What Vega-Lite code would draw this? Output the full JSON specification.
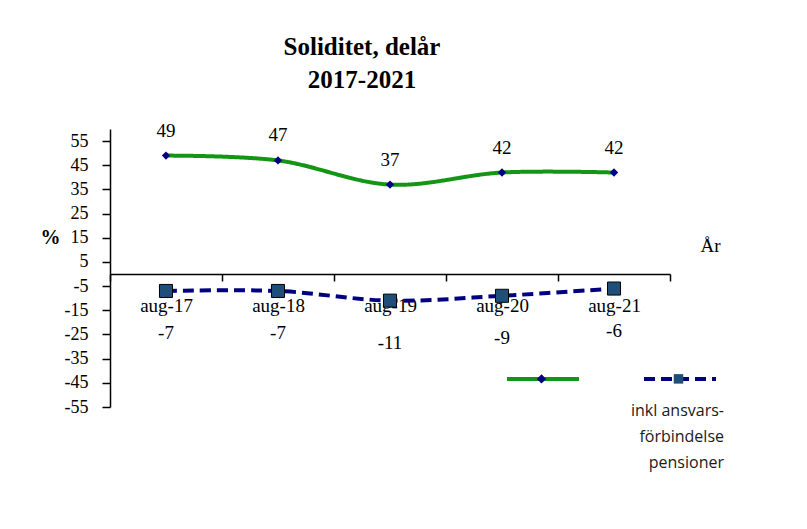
{
  "$schema": "https://vega.github.io/schema/vega-lite/v6.json",
  "width": 560,
  "height": 278,
  "autosize": {"type": "none"},
  "padding": {"left": 110, "top": 129, "right": 137, "bottom": 122},
  "background": "white",
  "title": {
    "text": ["Soliditet, delår", "2017-2021"],
    "font": "Liberation Serif",
    "fontSize": 25,
    "fontWeight": "bold",
    "lineHeight": 33,
    "color": "#000000",
    "anchor": "middle",
    "dx": -28,
    "offset": 29
  },
  "data": {
    "values": [
      {"period": "aug-17", "series": "Soliditet", "value": 49},
      {"period": "aug-18", "series": "Soliditet", "value": 47},
      {"period": "aug-19", "series": "Soliditet", "value": 37},
      {"period": "aug-20", "series": "Soliditet", "value": 42},
      {"period": "aug-21", "series": "Soliditet", "value": 42},
      {"period": "aug-17", "series": "inkl", "value": -7},
      {"period": "aug-18", "series": "inkl", "value": -7},
      {"period": "aug-19", "series": "inkl", "value": -11},
      {"period": "aug-20", "series": "inkl", "value": -9},
      {"period": "aug-21", "series": "inkl", "value": -6}
    ]
  },
  "encoding": {
    "x": {
      "field": "period",
      "type": "nominal",
      "sort": null,
      "scale": {"type": "band", "paddingInner": 0, "paddingOuter": 0},
      "axis": {
        "orient": "bottom",
        "offset": -133,
        "title": "År",
        "titleAngle": 0,
        "titleX": 600,
        "titleY": -29,
        "titleBaseline": "middle",
        "titleAlign": "center",
        "titleFont": "Liberation Serif",
        "titleFontSize": 19,
        "titleFontWeight": "normal",
        "titleColor": "#000000",
        "labelAngle": 0,
        "labelFont": "Liberation Serif",
        "labelFontSize": 19,
        "labelColor": "#000000",
        "labelPadding": 15,
        "tickBand": "extent",
        "tickSize": 7,
        "tickColor": "#000000",
        "tickWidth": 1.5,
        "domainColor": "#000000",
        "domainWidth": 1.5,
        "grid": false
      }
    },
    "y": {
      "field": "value",
      "type": "quantitative",
      "scale": {"domain": [-55, 60], "nice": false, "zero": false},
      "axis": {
        "values": [-55, -45, -35, -25, -15, -5, 5, 15, 25, 35, 45, 55],
        "labelExpr": "replace(format(datum.value, 'd'), '−', '-')",
        "title": "%",
        "titleAngle": 0,
        "titleX": -60,
        "titleY": 108,
        "titleAlign": "center",
        "titleBaseline": "middle",
        "titleFont": "Liberation Serif",
        "titleFontSize": 20,
        "titleFontWeight": "bold",
        "titleColor": "#000000",
        "labelFont": "Liberation Serif",
        "labelFontSize": 18,
        "labelColor": "#000000",
        "labelPadding": 14,
        "tickSize": 8,
        "tickColor": "#000000",
        "tickWidth": 1.5,
        "domainColor": "#000000",
        "domainWidth": 1.5,
        "grid": false
      }
    }
  },
  "layer": [
    {
      "mark": {"type": "line", "interpolate": "cardinal", "strokeWidth": 4, "strokeCap": "butt"},
      "encoding": {
        "color": {
          "field": "series",
          "type": "nominal",
          "scale": {"domain": ["Soliditet", "inkl"], "range": ["#159515", "#000080"]},
          "legend": {
            "orient": "none",
            "legendX": 395,
            "legendY": 212,
            "direction": "horizontal",
            "title": ["inkl ansvars-", "förbindelse", "pensioner"],
            "titleOrient": "bottom",
            "titleAnchor": "end",
            "titleFont": "Open Sans",
            "titleFontSize": 16,
            "titleFontWeight": "normal",
            "titleColor": "#1a1a1a",
            "titleLineHeight": 26,
            "titlePadding": 16,
            "symbolType": "stroke",
            "symbolSize": 5184,
            "symbolStrokeWidth": 4,
            "labelExpr": "''",
            "labelOffset": 0,
            "columnPadding": 49,
            "padding": 0
          }
        },
        "strokeDash": {
          "field": "series",
          "type": "nominal",
          "scale": {"domain": ["Soliditet", "inkl"], "range": [[1, 0], [11, 6]]},
          "legend": {
            "orient": "none",
            "legendX": 395,
            "legendY": 212,
            "direction": "horizontal",
            "title": ["inkl ansvars-", "förbindelse", "pensioner"],
            "titleOrient": "bottom",
            "titleAnchor": "end",
            "titleFont": "Open Sans",
            "titleFontSize": 16,
            "titleFontWeight": "normal",
            "titleColor": "#1a1a1a",
            "titleLineHeight": 26,
            "titlePadding": 16,
            "symbolType": "stroke",
            "symbolSize": 5184,
            "symbolStrokeWidth": 4,
            "labelExpr": "''",
            "labelOffset": 0,
            "columnPadding": 49,
            "padding": 0
          }
        }
      }
    },
    {
      "mark": {"type": "point", "filled": true, "opacity": 0},
      "encoding": {
        "shape": {
          "field": "series",
          "type": "nominal",
          "scale": {"domain": ["inkl", "Soliditet"], "range": ["square", "diamond"]},
          "legend": {
            "orient": "none",
            "legendX": 426,
            "legendY": 244,
            "direction": "horizontal",
            "values": ["Soliditet", "inkl"],
            "title": null,
            "symbolSize": 90,
            "symbolOpacity": 1,
            "symbolStrokeColor": "#000000",
            "symbolStrokeWidth": 1,
            "labelExpr": "''",
            "labelOffset": 0,
            "columnPadding": 122,
            "padding": 0
          }
        },
        "fill": {
          "field": "series",
          "type": "nominal",
          "scale": {"domain": ["inkl", "Soliditet"], "range": ["#1F4E79", "#000080"]},
          "legend": {
            "orient": "none",
            "legendX": 426,
            "legendY": 244,
            "direction": "horizontal",
            "values": ["Soliditet", "inkl"],
            "title": null,
            "symbolSize": 90,
            "symbolOpacity": 1,
            "symbolStrokeColor": "#000000",
            "symbolStrokeWidth": 1,
            "labelExpr": "''",
            "labelOffset": 0,
            "columnPadding": 122,
            "padding": 0
          }
        }
      }
    },
    {
      "transform": [{"filter": "datum.series === 'Soliditet'"}],
      "mark": {"type": "point", "shape": "diamond", "filled": true, "size": 70, "color": "#000080", "opacity": 1}
    },
    {
      "transform": [{"filter": "datum.series === 'inkl'"}],
      "mark": {"type": "point", "shape": "square", "filled": true, "size": 170, "fill": "#1F4E79", "stroke": "#000000", "strokeWidth": 1, "opacity": 1}
    },
    {
      "transform": [{"filter": "datum.series === 'Soliditet'"}],
      "mark": {"type": "text", "font": "Liberation Serif", "fontSize": 19, "color": "#000000", "dy": -25},
      "encoding": {"text": {"field": "value", "type": "nominal"}}
    },
    {
      "transform": [{"filter": "datum.series === 'inkl'"}],
      "mark": {"type": "text", "font": "Liberation Serif", "fontSize": 19, "color": "#000000", "dy": 42},
      "encoding": {"text": {"field": "value", "type": "nominal"}}
    }
  ],
  "config": {"view": {"stroke": null}}
}
